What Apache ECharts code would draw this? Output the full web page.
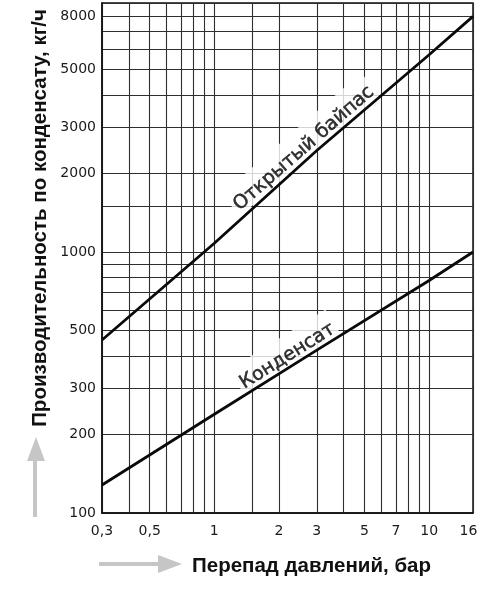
<!DOCTYPE html>
<html><head><meta charset="utf-8">
<script src="https://cdn.jsdelivr.net/npm/echarts@6/dist/echarts.min.js"></script>
<style>html,body{margin:0;padding:0;background:#fff}#c{width:478px;height:600px}</style>
</head><body><div id="c"></div>
<script>
// ---- data ----
const pressure = [0.3, 1, 3, 10, 16];
const bypassFlow = [460, 1080, 2450, 5700, 8000];
const condensateFlow = [128, 239, 421, 778, 1000];
const xGridValues = [0.3, 0.4, 0.5, 0.6, 0.7, 0.8, 0.9, 1, 1.5, 2, 3, 4, 5, 6, 7, 8, 9, 10, 16];
const xLabelValues = [0.3, 0.5, 1, 2, 3, 5, 7, 10, 16];
const yGridValues = [100, 200, 300, 400, 500, 600, 700, 800, 900, 1000, 1500, 2000, 3000, 4000, 5000, 6000, 7000, 8000, 9000];
const yLabelValues = [100, 200, 300, 500, 1000, 2000, 3000, 5000, 8000];
const seriesNames = ['Открытый байпас', 'Конденсат'];
const xTitle = 'Перепад давлений, бар';
const yTitle = 'Производительность по конденсату, кг/ч';

// label anchor positions along each curve (x value)
const bypassLabelX = 2.79;
const condensateLabelX = 2.31;

function logInterp(xs, ys, x) {
  const lx = Math.log10(x);
  for (let i = 0; i < xs.length - 1; i++) {
    const a = Math.log10(xs[i]), b = Math.log10(xs[i + 1]);
    if (lx >= a && lx <= b) {
      const t = (lx - a) / (b - a);
      return Math.pow(10, Math.log10(ys[i]) + t * (Math.log10(ys[i + 1]) - Math.log10(ys[i])));
    }
  }
  return ys[ys.length - 1];
}

const fmt = v => String(+(+v).toPrecision(3)).replace('.', ',');
const lastX = xLabelValues[xLabelValues.length - 1];
const fmtX = v => {
  const s = fmt(v);
  return Math.abs(+v - lastX) < 1e-6 ? '{e|' + s + '}' : s;
};

const chart = echarts.init(document.getElementById('c'), null, {renderer: 'canvas'});
const lineStyle = {color: '#0a0a0a', width: 2.8};
const tickFont = {fontFamily: 'DejaVu Sans', fontSize: 14, color: '#1a1a1a'};
const labelCommon = {
  show: true, position: 'top', distance: 1,
  fontFamily: 'DejaVu Sans', fontSize: 19, color: '#000',
  textBorderColor: '#000', textBorderWidth: 0.5,
  backgroundColor: '#fff', padding: [10, 3, 0, 3]
};
chart.setOption({
  animation: false,
  grid: {left: 102, right: 5, top: 3, bottom: 87, containLabel: false, outerBoundsMode: 'none',
         show: true, borderColor: '#111', borderWidth: 1.5, backgroundColor: 'transparent'},
  xAxis: {
    type: 'log', logBase: 10, min: 0.3, max: 16,
    axisLine: {show: true, lineStyle: {color: '#111', width: 1.5}},
    axisTick: {show: false, customValues: xGridValues},
    axisLabel: Object.assign({customValues: xLabelValues, formatter: fmtX, margin: 11,
      rich: {e: Object.assign({padding: [0, 9, 0, 0]}, tickFont)}}, tickFont),
    splitLine: {show: true, lineStyle: {color: '#2e2e2e', width: 1.1}},
    minorTick: {show: false}, minorSplitLine: {show: false}
  },
  yAxis: {
    type: 'log', logBase: 10, min: 100, max: 9000,
    axisLine: {show: true, lineStyle: {color: '#111', width: 1.5}},
    axisTick: {show: false, customValues: yGridValues},
    axisLabel: Object.assign({customValues: yLabelValues, formatter: fmt, margin: 6}, tickFont),
    splitLine: {show: true, lineStyle: {color: '#2e2e2e', width: 1.1}},
    minorTick: {show: false}, minorSplitLine: {show: false}
  },
  series: [
    {name: seriesNames[0], type: 'line', z: 5, symbol: 'none', silent: true, lineStyle: lineStyle,
     data: pressure.map((x, i) => [x, bypassFlow[i]])},
    {name: seriesNames[1], type: 'line', z: 5, symbol: 'none', silent: true, lineStyle: lineStyle,
     data: pressure.map((x, i) => [x, condensateFlow[i]])},
    {type: 'scatter', z: 2, symbolSize: 0, silent: true,
     label: Object.assign({}, labelCommon, {rotate: 41, formatter: seriesNames[0]}),
     data: [[bypassLabelX, logInterp(pressure, bypassFlow, bypassLabelX)]]},
    {type: 'scatter', z: 2, symbolSize: 0, silent: true,
     label: Object.assign({}, labelCommon, {rotate: 32, formatter: seriesNames[1]}),
     data: [[condensateLabelX, logInterp(pressure, condensateFlow, condensateLabelX)]]}
  ],
  graphic: [
    {type: 'text', x: 40, y: 218, rotation: Math.PI / 2, silent: true,
     style: {text: yTitle, font: 'bold 20.5px "Liberation Sans"', fill: '#111', align: 'center', verticalAlign: 'middle'}},
    {type: 'text', x: 192, y: 566, silent: true,
     style: {text: xTitle, font: 'bold 20.5px "Liberation Sans"', fill: '#111', align: 'left', verticalAlign: 'middle'}},
    {type: 'rect', silent: true, shape: {x: 33, y: 460, width: 4, height: 57}, style: {fill: '#c6c6c6'}},
    {type: 'polygon', silent: true, shape: {points: [[27, 461], [45, 461], [36, 437]]}, style: {fill: '#c6c6c6'}},
    {type: 'rect', silent: true, shape: {x: 99, y: 562, width: 60, height: 4}, style: {fill: '#c6c6c6'}},
    {type: 'polygon', silent: true, shape: {points: [[158, 555], [158, 573], [182, 564]]}, style: {fill: '#c6c6c6'}}
  ]
});
</script>
</body></html>
